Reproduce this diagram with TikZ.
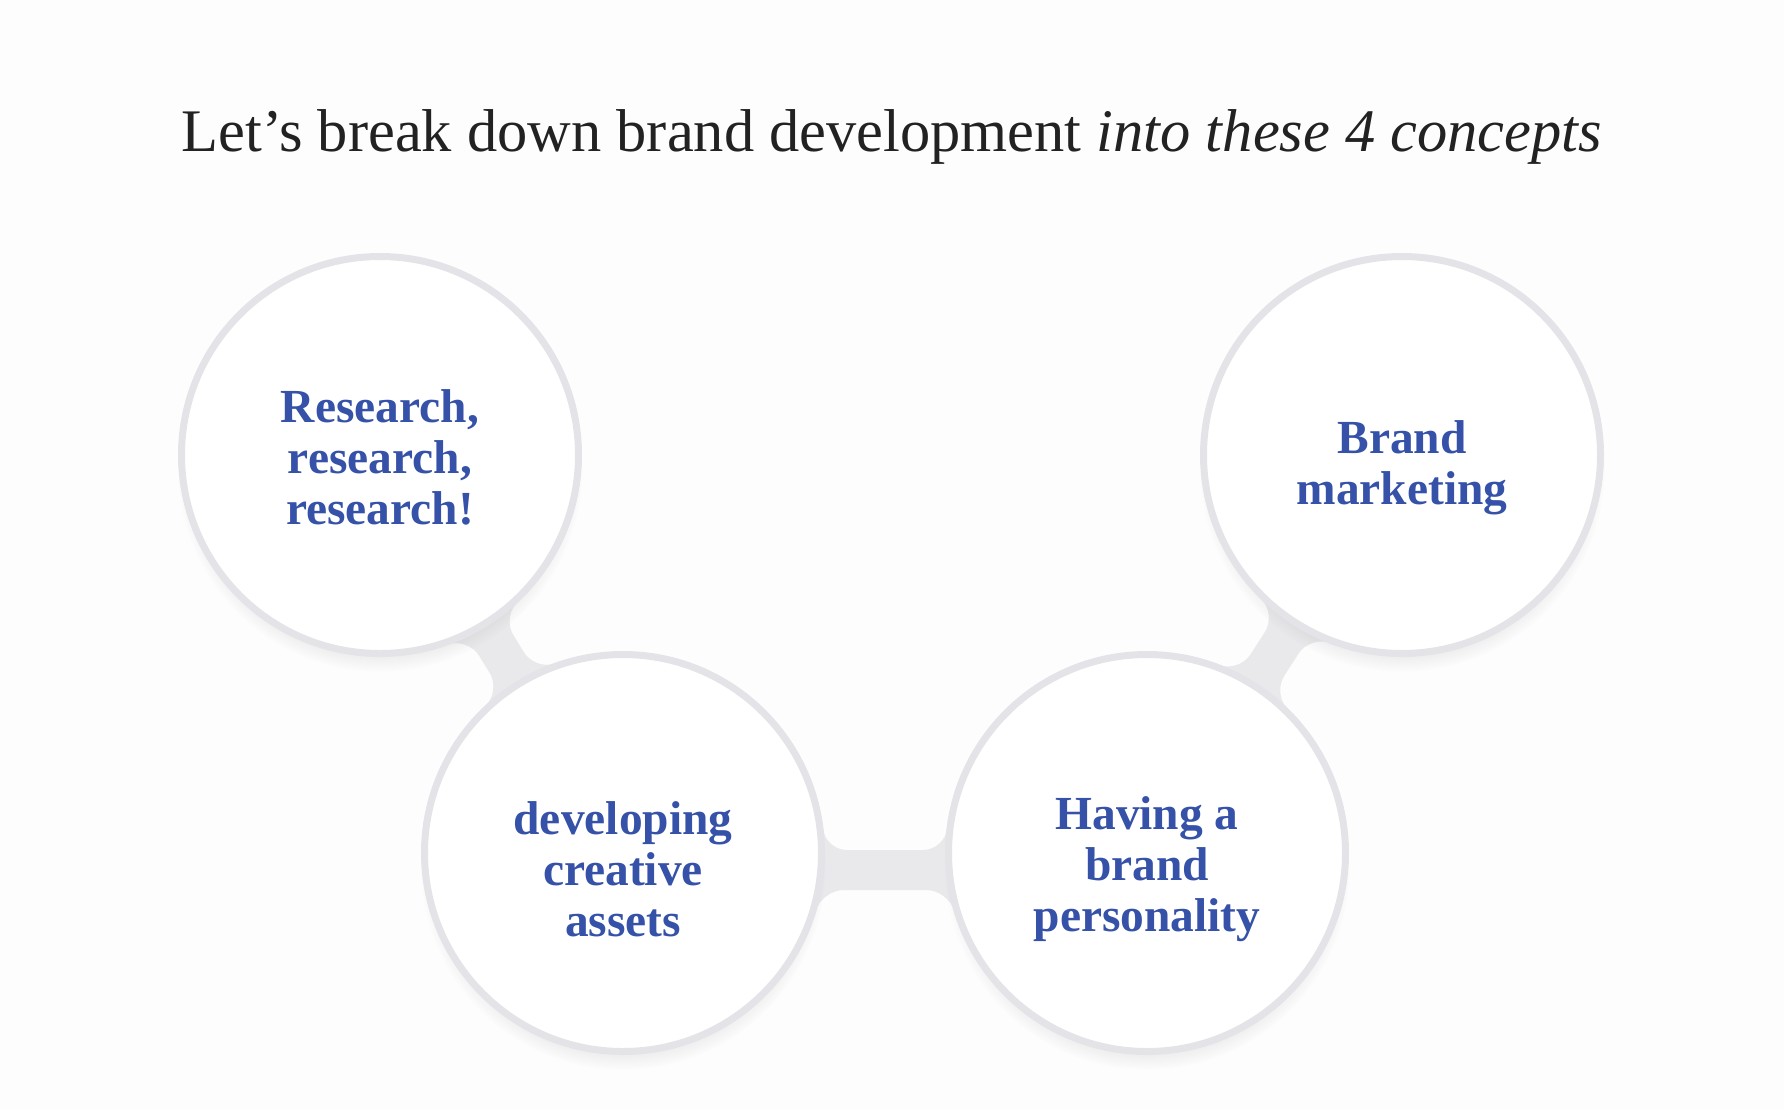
\documentclass[tikz,border=0pt]{standalone}
\usepackage{fontspec}
\setmainfont{Liberation Serif}
\usetikzlibrary{calc,shadows,backgrounds}
\definecolor{ringgray}{RGB}{228,227,231}
\definecolor{neckgray}{RGB}{233,232,235}
\definecolor{textblue}{RGB}{54,82,168}
\definecolor{titleblack}{RGB}{34,34,34}
\definecolor{paper}{RGB}{254,253,254}

\begin{document}
\begin{tikzpicture}[
  bubble/.style={circle, minimum size=3.97cm, inner sep=0pt, fill=white,
    draw=ringgray, line width=0.07cm,
    circular drop shadow={shadow scale=1.02, shadow xshift=0pt, shadow yshift=-0.14cm, opacity=0.22}},
  concept/.style={text=textblue, align=center, font=\bfseries\fontsize{13.5}{14.5}\selectfont},
  neck/.style={fill=neckgray, rounded corners=0.22cm}]
  \useasboundingbox (0,0) rectangle (17.84,11.10);

  % title
  \node[anchor=base, text=titleblack, font=\fontsize{17.2}{20}\selectfont] (title) at (8.92,9.59)
    {Let’s break down brand development \textit{into these 4 concepts}};

  % the four concepts
  \node[bubble, label={[concept, yshift=-0.02cm]center:Research,\\research,\\research!}] (research) at (3.80,6.55) {};
  \node[bubble, label={[concept, yshift=-0.16cm]center:developing\\creative\\assets}] (assets) at (6.23,2.57) {};
  \node[bubble, label={[concept, yshift=-0.16cm]center:Having a\\brand\\personality}] (personality) at (11.47,2.57) {};
  \node[bubble, label={[concept, yshift=-0.13cm]center:Brand\\marketing}] (marketing) at (14.02,6.55) {};

  \begin{scope}[on background layer]
    \fill[paper] (0,0) rectangle (17.84,11.10);
    % necks between the bubbles, \o shifts the band sideways
    \foreach \a/\b/\o in {research/assets/0, assets/personality/-0.17, personality/marketing/0} {
      \pgfmathsetmacro{\hw}{\o+0.55} \pgfmathsetmacro{\sw}{sqrt(4.0804-\hw*\hw)}
      \pgfmathsetmacro{\he}{\o+0.2} \pgfmathsetmacro{\se}{sqrt(4.0804-\he*\he)}
      \pgfmathsetmacro{\hE}{\o-0.2} \pgfmathsetmacro{\sE}{sqrt(4.0804-\hE*\hE)}
      \pgfmathsetmacro{\hW}{\o-0.55} \pgfmathsetmacro{\sW}{sqrt(4.0804-\hW*\hW)}
      \fill[neck] ($(\a.center)!0cm!(\b.center)!\hw cm!90:(\b.center)$)
        -- ($(\a.center)!\sw cm!(\b.center)!\hw cm!90:(\b.center)$)
        -- ($(\a.center)!\se cm!(\b.center)!\he cm!90:(\b.center)$)
        -- ($(\b.center)!\se cm!(\a.center)!\he cm!-90:(\a.center)$)
        -- ($(\b.center)!\sw cm!(\a.center)!\hw cm!-90:(\a.center)$)
        -- ($(\b.center)!0cm!(\a.center)!\hw cm!-90:(\a.center)$)
        -- ($(\b.center)!0cm!(\a.center)!\hW cm!-90:(\a.center)$)
        -- ($(\b.center)!\sW cm!(\a.center)!\hW cm!-90:(\a.center)$)
        -- ($(\b.center)!\sE cm!(\a.center)!\hE cm!-90:(\a.center)$)
        -- ($(\a.center)!\sE cm!(\b.center)!\hE cm!90:(\b.center)$)
        -- ($(\a.center)!\sW cm!(\b.center)!\hW cm!90:(\b.center)$)
        -- ($(\a.center)!0cm!(\b.center)!\hW cm!90:(\b.center)$) -- cycle;
    }
  \end{scope}
\end{tikzpicture}
\end{document}
